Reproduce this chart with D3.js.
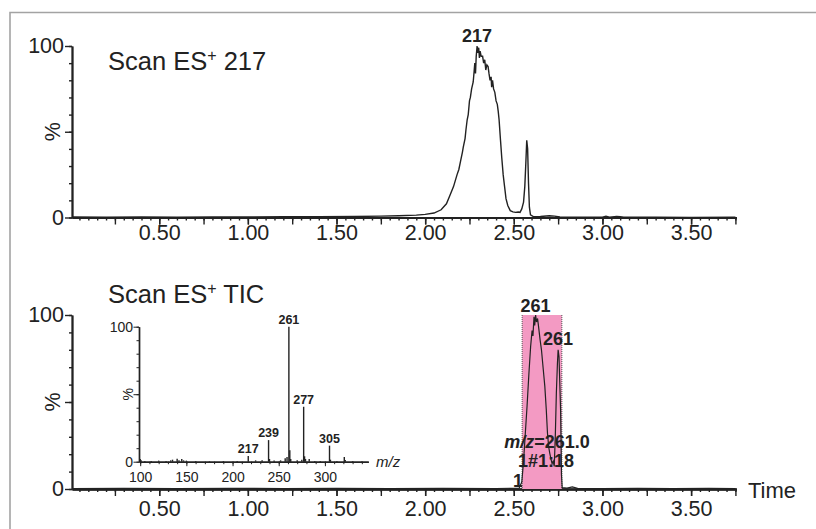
<!DOCTYPE html>
<html>
<head>
<meta charset="utf-8">
<script src="https://cdn.jsdelivr.net/npm/d3@7"></script>
<style>
  body { margin: 0; background: #fff; }
  text { font-family: "Liberation Sans", Arial, sans-serif; fill: #222; }
</style>
</head>
<body>
<script>
// chromatogram, Scan ES+ 217 (time in min, % of max)
var scan217 = [
  [0.01,0.3],[0.2,0.2],[0.4,0.3],[0.6,0.2],[0.8,0.3],[1.0,0.3],[1.2,0.4],[1.4,0.4],
  [1.6,0.6],[1.75,0.8],[1.85,1.0],[1.95,1.4],[2.0,1.8],[2.05,2.6],[2.09,4.5],[2.12,8],
  [2.14,13],[2.16,18],[2.18,25],[2.19,28],[2.20,33],[2.21,38],[2.215,41],[2.225,46],
  [2.23,51],[2.237,57],[2.243,60],[2.25,68],[2.255,70],[2.262,75],[2.271,79],[2.276,85],
  [2.28,90],[2.284,84],[2.288,94],[2.293,100],[2.298,96],[2.302,99],[2.306,93],[2.31,97],
  [2.316,94],[2.324,94],[2.33,90],[2.336,92],[2.342,86],[2.348,89],[2.355,88],[2.36,84],
  [2.366,80],[2.372,82],[2.375,76],[2.38,80],[2.386,75],[2.393,73],[2.40,68],[2.407,66],
  [2.412,62],[2.417,57],[2.425,45],[2.432,35],[2.44,25],[2.448,18],[2.456,11],[2.466,7],
  [2.48,4],[2.495,3.3],[2.51,3],[2.525,3.2],[2.535,3],[2.545,5],[2.555,9],[2.562,18],
  [2.568,32],[2.573,45],[2.578,40],[2.583,20],[2.588,6],[2.594,1.5],[2.61,0.5],[2.65,0.6],
  [2.70,1.0],[2.73,0.8],[2.76,0.3],[2.9,0.2],[3.0,0.2],[3.02,0.8],[3.04,0.2],[3.08,0.6],
  [3.1,0.5],[3.12,0.2],[3.3,0.2],[3.5,0.1],[3.75,0.2]
];

// chromatogram, Scan ES+ TIC
var scanTIC = [
  [0.01,0.3],[0.3,0.4],[0.6,0.3],[0.9,0.4],[1.2,0.3],[1.5,0.4],[1.8,0.3],[2.1,0.4],
  [2.4,0.3],[2.53,0.5],[2.545,4],[2.555,16],[2.565,32],[2.575,48],[2.585,66],[2.595,82],
  [2.603,91],[2.608,88],[2.614,99],[2.618,94],[2.623,100],[2.628,96],[2.634,98],[2.64,93],
  [2.648,86],[2.656,80],[2.665,70],[2.675,59],[2.683,46],[2.69,32],[2.697,24],[2.703,20.5],
  [2.71,17],[2.716,14.6],[2.722,16],[2.728,13],[2.734,30],[2.74,55],[2.746,72],[2.75,80],
  [2.755,76],[2.764,45],[2.769,8],[2.773,0.8],[2.80,0.5],[2.83,1.2],[2.86,0.4],[3.0,0.3],
  [3.2,0.4],[3.4,0.3],[3.6,0.4],[3.75,0.3]
];

// combined spectrum in the inset (m/z, % of base peak)
var spectrum = [
  [100,2],[101,1],[105,0.5],[112,0.6],[120,0.8],[128,0.6],[133,1],[135,1.5],[140,2.2],
  [142,1],[145,2],[147,1],[150,0.8],[160,0.5],[175,0.4],[190,0.5],[205,0.6],[217,4.2],
  [225,1],[232,1],[239,16],[240,2],[245,0.8],[252,1],[257,2.5],[259,3.5],[261,100],
  [262,8.5],[263,2],[270,1],[275,1.5],[277,40.7],[278,4],[279,2],[283,2],[289,0.6],
  [295,0.5],[305,11.9],[306,1.5],[313,0.5],[321,3.5],[322,1.2],[330,0.5],[340,0.4]
];
var spectrumLabels = [217, 239, 261, 277, 305];

var timeLabels = [0.5, 1.0, 1.5, 2.0, 2.5, 3.0, 3.5];
var mzLabels = [100, 150, 200, 250, 300];
var combineRange = [2.547, 2.771];

var W = 816, H = 529;
var ink = "#222";

var svg = d3.select("body").append("svg")
    .attr("width", W)
    .attr("height", H);

// frame (top and left edges only, the rest is cropped)
svg.append("path")
    .attr("d", "M10,529 V12.5 H816")
    .attr("fill", "none")
    .attr("stroke", "#a3a3a3")
    .attr("stroke-width", 1.6);

var x = d3.scaleLinear().domain([0.008, 3.755]).range([72, 736.3]);
var yTop = d3.scaleLinear().domain([0, 100]).range([217.5, 46]);
var yBot = d3.scaleLinear().domain([0, 100]).range([489, 315]);

var minorT = d3.range(1, 76).map(function(i) { return i * 0.05; });
var quarterT = d3.range(1, 16).map(function(i) { return i * 0.25; });

function styleAxis(g, w) {
  g.selectAll("path,line").attr("stroke", ink).attr("stroke-width", w);
}

function drawPanel(y, labelDy) {
  var g = svg.append("g");
  // x axis: minor, quarter, labelled
  var ax = g.append("g").attr("transform", "translate(0," + y(0) + ")");
  ax.append("g").call(d3.axisBottom(x).tickValues(minorT).tickSize(3).tickSizeOuter(0).tickFormat(""));
  ax.append("g").call(d3.axisBottom(x).tickValues(quarterT).tickSize(7).tickSizeOuter(0).tickFormat(""));
  var lab = ax.append("g").call(d3.axisBottom(x).tickValues(timeLabels).tickSize(7).tickSizeOuter(0)
      .tickFormat(d3.format(".2f")));
  lab.selectAll("text")
      .attr("y", labelDy).attr("dy", "0.35em")
      .attr("font-size", 21.5).attr("fill", ink)
      .style("font-family", "'Liberation Sans', Arial, sans-serif");
  styleAxis(ax, 1.4);
  ax.selectAll(".domain").attr("stroke-width", 1.8);

  // y axis
  var ay = g.append("g").attr("transform", "translate(" + x(0.008) + ",0)");
  ay.append("g").call(d3.axisLeft(y).tickValues(d3.range(0, 101, 10)).tickSize(3).tickSizeOuter(0).tickFormat(""));
  var ylab = ay.append("g").call(d3.axisLeft(y).tickValues([0, 50, 100]).tickSize(7).tickSizeOuter(0)
      .tickFormat(function(d) { return d === 50 ? "" : d; }));
  ylab.selectAll("text")
      .attr("x", -8).attr("font-size", 21.5).attr("fill", ink)
      .style("font-family", "'Liberation Sans', Arial, sans-serif");
  styleAxis(ay, 1.4);
  ay.selectAll(".domain").attr("stroke-width", 1.8);

  g.append("text")
      .attr("transform", "translate(52," + y(50) + ") rotate(-90)")
      .attr("text-anchor", "middle")
      .attr("dy", "0.35em")
      .attr("font-size", 21.5)
      .text("%");
  return g;
}

function title(g, xp, yp, tail) {
  var t = g.append("text").attr("x", xp).attr("y", yp).attr("font-size", 25.5);
  t.append("tspan").text("Scan ES");
  t.append("tspan").attr("font-size", 16).attr("dy", -9).text("+");
  t.append("tspan").attr("dy", 9).text(" " + tail);
}

var line = function(y) {
  return d3.line().x(function(d) { return x(d[0]); }).y(function(d) { return y(d[1]); });
};

// ---- top panel
var topP = drawPanel(yTop, 15);
title(topP, 108, 70, "217");
topP.append("path")
    .datum(scan217)
    .attr("d", line(yTop))
    .attr("fill", "none")
    .attr("stroke", ink)
    .attr("stroke-width", 1.4);
topP.append("text")
    .attr("x", x(2.293)).attr("y", 41.5)
    .attr("text-anchor", "middle")
    .attr("font-size", 18).attr("font-weight", "bold")
    .text("217");

// ---- bottom panel
var botP = drawPanel(yBot, 19);
title(botP, 108, 303, "TIC");

// "1" sits just left of the combine window
botP.append("text")
    .attr("x", 523).attr("y", 487)
    .attr("text-anchor", "end")
    .attr("font-size", 18).attr("font-weight", "bold")
    .text("1");

// combine window
botP.append("rect")
    .attr("x", x(combineRange[0]))
    .attr("y", yBot(100))
    .attr("width", x(combineRange[1]) - x(combineRange[0]))
    .attr("height", yBot(0) - yBot(100))
    .attr("fill", "#f39ac3");
combineRange.forEach(function(t) {
  botP.append("line")
      .attr("x1", x(t)).attr("x2", x(t))
      .attr("y1", yBot(100)).attr("y2", yBot(0))
      .attr("stroke", "#555")
      .attr("stroke-width", 1)
      .attr("stroke-dasharray", "1,1");
});

botP.append("path")
    .datum(scanTIC)
    .attr("d", line(yBot))
    .attr("fill", "none")
    .attr("stroke", ink)
    .attr("stroke-width", 1.2);

var bold18 = function(sel) { return sel.attr("font-size", 18).attr("font-weight", "bold"); };
bold18(botP.append("text").attr("x", 535.5).attr("y", 312).attr("text-anchor", "middle")).text("261");
bold18(botP.append("text").attr("x", 558).attr("y", 345).attr("text-anchor", "middle")).text("261");
var mz = bold18(botP.append("text").attr("x", 547).attr("y", 448).attr("text-anchor", "middle"));
mz.append("tspan").attr("font-style", "italic").text("m/z");
mz.append("tspan").text("=261.0");
bold18(botP.append("text").attr("x", 546).attr("y", 467).attr("text-anchor", "middle")).text("1#1:18");

botP.append("text")
    .attr("x", 748).attr("y", 490)
    .attr("dy", "0.35em")
    .attr("font-size", 22)
    .text("Time");

// ---- inset spectrum
var xm = d3.scaleLinear().domain([98.7, 347]).range([139, 368.3]);
var ym = d3.scaleLinear().domain([0, 100]).range([461.7, 326.7]);
var ins = svg.append("g");

ins.selectAll("line.peak")
    .data(spectrum)
  .enter().append("line")
    .attr("class", "peak")
    .attr("x1", function(d) { return xm(d[0]); })
    .attr("x2", function(d) { return xm(d[0]); })
    .attr("y1", ym(0))
    .attr("y2", function(d) { return ym(d[1]); })
    .attr("stroke", ink)
    .attr("stroke-width", 1.4);

var byMz = {};
spectrum.forEach(function(d) { byMz[d[0]] = d[1]; });
ins.selectAll("text.plab")
    .data(spectrumLabels)
  .enter().append("text")
    .attr("class", "plab")
    .attr("x", function(d) { return xm(d); })
    .attr("y", function(d) { return ym(byMz[d]) - 3; })
    .attr("text-anchor", "middle")
    .attr("font-size", 12.5).attr("font-weight", "bold")
    .text(function(d) { return d; });

var imx = ins.append("g").attr("transform", "translate(0," + ym(0) + ")");
imx.append("g").call(d3.axisBottom(xm).tickValues(d3.range(100, 341, 10)).tickSize(2.5).tickSizeOuter(0).tickFormat(""));
var imxl = imx.append("g").call(d3.axisBottom(xm).tickValues(mzLabels).tickSize(4.5).tickSizeOuter(0));
imxl.selectAll("text")
    .attr("y", 15).attr("dy", "0.35em")
    .attr("font-size", 14).attr("fill", ink)
    .style("font-family", "'Liberation Sans', Arial, sans-serif");
styleAxis(imx, 1);
imx.selectAll(".domain").attr("stroke-width", 1.4);

var imy = ins.append("g").attr("transform", "translate(139,0)");
imy.append("g").call(d3.axisLeft(ym).tickValues(d3.range(0, 101, 10)).tickSize(2.5).tickSizeOuter(0).tickFormat(""));
var imyl = imy.append("g").call(d3.axisLeft(ym).tickValues([0, 50, 100]).tickSize(5.5).tickSizeOuter(0)
    .tickFormat(function(d) { return d === 50 ? "" : d; }));
imyl.selectAll("text")
    .attr("x", -6).attr("font-size", 14).attr("fill", ink)
    .style("font-family", "'Liberation Sans', Arial, sans-serif");
styleAxis(imy, 1);
imy.selectAll(".domain").attr("stroke-width", 1.4);

ins.append("text")
    .attr("transform", "translate(128," + ym(50) + ") rotate(-90)")
    .attr("text-anchor", "middle")
    .attr("dy", "0.35em")
    .attr("font-size", 14)
    .text("%");
ins.append("text")
    .attr("x", 376).attr("y", ym(0))
    .attr("dy", "0.35em")
    .attr("font-size", 15).attr("font-style", "italic")
    .text("m/z");
</script>
</body>
</html>
